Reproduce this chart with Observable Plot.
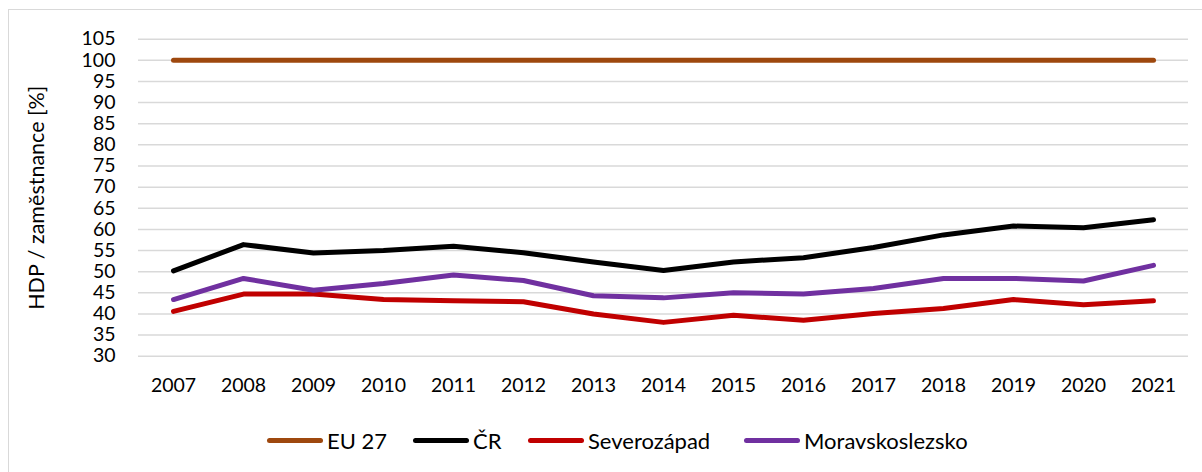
<!DOCTYPE html>
<html>
<head>
<meta charset="utf-8">
<script src="https://cdn.jsdelivr.net/npm/d3@7"></script>
<script src="https://cdn.jsdelivr.net/npm/@observablehq/plot@0.6"></script>
<style>
  html, body { margin: 0; padding: 0; background: #fff; }
  #wrap { position: relative; width: 1202px; height: 472px; overflow: hidden; font-family: Lato, "Open Sans", sans-serif; }
  #frame { position: absolute; left: 8px; top: 9px; width: 1300px; height: 600px; border: 1.5px solid #D9D9D9; box-sizing: border-box; }
  #chart { position: absolute; left: 0; top: 0; }
  #legend { position: absolute; left: 0; top: 428px; width: 1202px; height: 24px; }
  .item { position: absolute; top: 0; display: flex; align-items: center; height: 24px; font-size: 22px; color: #000; white-space: nowrap; }
  .sw { display: inline-block; width: 56px; height: 5px; border-radius: 3px; margin-right: 4px; }
</style>
</head>
<body>
<div id="wrap">
  <div id="frame"></div>
  <div id="chart"></div>
  <div id="legend"></div>
</div>
<script>
const years = ["2007","2008","2009","2010","2011","2012","2013","2014","2015","2016","2017","2018","2019","2020","2021"];
const seriesNames = ["EU 27", "ČR", "Severozápad", "Moravskoslezsko"];
const seriesColors = ["#9E480E", "#000000", "#C00000", "#7030A0"];
const eu27 = [100,100,100,100,100,100,100,100,100,100,100,100,100,100,100];
const cr = [50.2,56.4,54.4,55.0,56.0,54.5,52.3,50.3,52.3,53.3,55.7,58.7,60.8,60.4,62.3];
const severozapad = [40.6,44.7,44.7,43.4,43.1,42.9,40.0,38.0,39.7,38.5,40.1,41.3,43.4,42.2,43.1];
const moravskoslezsko = [43.4,48.4,45.6,47.2,49.2,47.9,44.3,43.8,45.0,44.7,46.0,48.4,48.4,47.8,51.5];
const yTicks = [30,35,40,45,50,55,60,65,70,75,80,85,90,95,100,105];
const yLabel = "HDP / zaměstnance [%]";

const allSeries = [eu27, cr, severozapad, moravskoslezsko];
const data = [];
allSeries.forEach((vals, si) => {
  vals.forEach((v, i) => data.push({year: years[i], value: v, series: seriesNames[si]}));
});

const plot = Plot.plot({
  width: 1202,
  height: 472,
  marginLeft: 138,
  marginRight: 14,
  marginTop: 38.7,
  marginBottom: 116.3,
  style: {fontFamily: "Lato, 'Open Sans', sans-serif", fontSize: "19.5px", color: "#000", background: "transparent"},
  x: {type: "point", domain: years, padding: 0.5, label: null},
  y: {domain: [30, 105], ticks: yTicks, label: null},
  color: {domain: seriesNames, range: seriesColors},
  marks: [
    Plot.gridY(yTicks, {stroke: "#D9D9D9", strokeOpacity: 1, strokeWidth: 1.5}),
    Plot.axisY({ticks: yTicks, tickSize: 0, tickPadding: 23, fontSize: "19.5px", label: null}),
    Plot.axisX({tickSize: 0, tickPadding: 22, fontSize: "19.5px", label: null}),
    Plot.line(data, {x: "year", y: "value", z: "series", stroke: "series", strokeWidth: 5, strokeLinecap: "round", strokeLinejoin: "round"}),
    Plot.text([yLabel], {frameAnchor: "left", dx: -101, rotate: -90, textAnchor: "middle", text: d => d, fontSize: "21.5px", fill: "#000"})
  ]
});
document.getElementById("chart").appendChild(plot);

const legendX = [267, 413, 528, 744];
const legend = document.getElementById("legend");
seriesNames.forEach((name, i) => {
  const it = document.createElement("div");
  it.className = "item";
  it.style.left = legendX[i] + "px";
  const sw = document.createElement("span");
  sw.className = "sw";
  sw.style.background = seriesColors[i];
  it.appendChild(sw);
  it.appendChild(document.createTextNode(name));
  legend.appendChild(it);
});
</script>
</body>
</html>
